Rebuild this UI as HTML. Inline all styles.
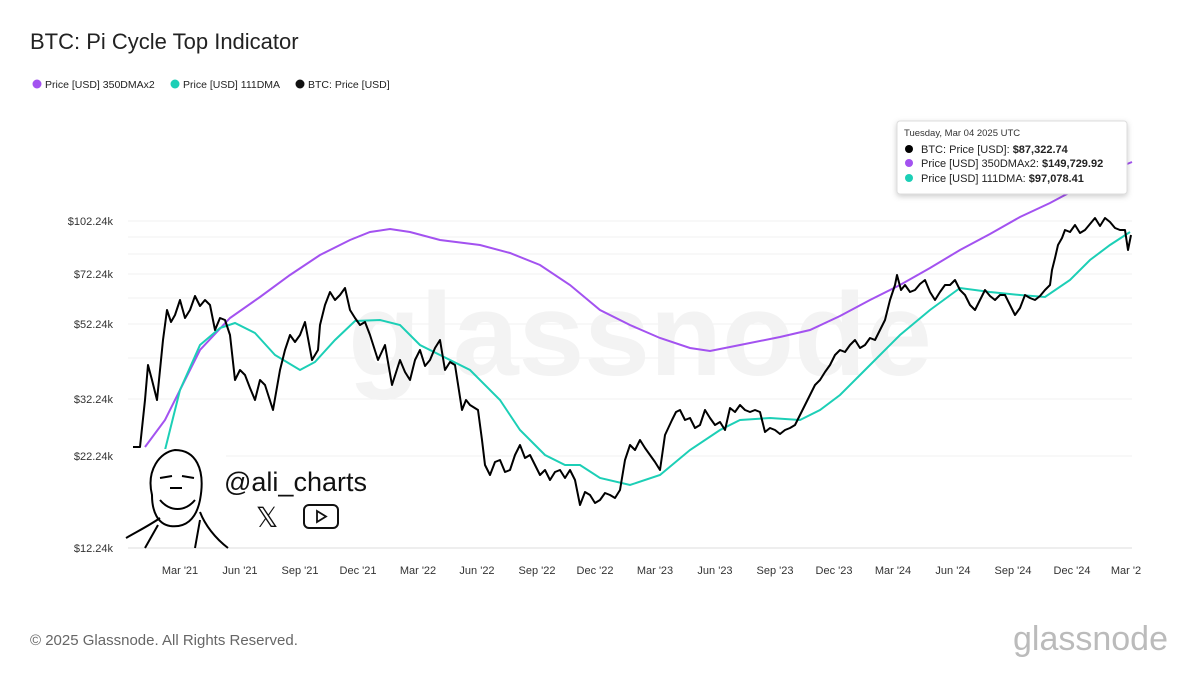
<!DOCTYPE html>
<html><head><meta charset="utf-8"><style>
body{margin:0;background:#fff;font-family:"Liberation Sans",sans-serif}
#c{position:relative;width:1200px;height:675px;overflow:hidden}
</style></head><body><div id="c">
<svg width="1200" height="675" viewBox="0 0 1200 675" style="position:absolute;left:0;top:0">
<text x="30" y="49" font-size="22" fill="#222">BTC: Pi Cycle Top Indicator</text>
<circle cx="37" cy="84" r="4.5" fill="#a352f0"/><text x="45" y="88" font-size="10.5" fill="#222">Price [USD] 350DMAx2</text>
<circle cx="175" cy="84" r="4.5" fill="#1ccfb6"/><text x="183" y="88" font-size="10.5" fill="#222">Price [USD] 111DMA</text>
<circle cx="300" cy="84" r="4.5" fill="#111"/><text x="308" y="88" font-size="10.5" fill="#222">BTC: Price [USD]</text>
<g stroke="#f0f0f0" stroke-width="1">
<line x1="128" x2="1132" y1="221" y2="221"/><line x1="128" x2="1132" y1="237" y2="237"/><line x1="128" x2="1132" y1="254" y2="254"/>
<line x1="128" x2="1132" y1="274" y2="274"/><line x1="128" x2="1132" y1="298" y2="298"/><line x1="128" x2="1132" y1="324" y2="324"/>
<line x1="128" x2="1132" y1="358" y2="358"/><line x1="128" x2="1132" y1="399" y2="399"/><line x1="128" x2="1132" y1="456" y2="456"/>
</g>
<line x1="128" x2="1132" y1="548" y2="548" stroke="#ddd"/>
<text x="640" y="375" font-size="118" fill="#f3f3f3" text-anchor="middle" font-weight="bold">glassnode</text>
<g font-size="11" fill="#333" text-anchor="end">
<text x="113" y="225">$102.24k</text><text x="113" y="278">$72.24k</text><text x="113" y="328">$52.24k</text>
<text x="113" y="403">$32.24k</text><text x="113" y="460">$22.24k</text><text x="113" y="552">$12.24k</text></g>
<g font-size="11" fill="#333" text-anchor="middle">
<text x="180" y="574">Mar '21</text><text x="240" y="574">Jun '21</text><text x="300" y="574">Sep '21</text><text x="358" y="574">Dec '21</text>
<text x="418" y="574">Mar '22</text><text x="477" y="574">Jun '22</text><text x="537" y="574">Sep '22</text><text x="595" y="574">Dec '22</text>
<text x="655" y="574">Mar '23</text><text x="715" y="574">Jun '23</text><text x="775" y="574">Sep '23</text><text x="834" y="574">Dec '23</text>
<text x="893" y="574">Mar '24</text><text x="953" y="574">Jun '24</text><text x="1013" y="574">Sep '24</text><text x="1072" y="574">Dec '24</text>
<text x="1126" y="574">Mar '2</text></g>
<polyline fill="none" stroke="#a352f0" stroke-width="2" points="145,447 165,420 200,350 230,318 260,297 290,275 320,255 350,240 370,232 390,229 410,232 440,240 480,245 510,253 540,265 570,285 600,310 630,325 660,338 690,348 710,351 740,345 780,337 810,330 840,316 870,300 900,285 930,268 960,250 990,234 1020,217 1050,203 1080,187 1100,175 1132,162"/>
<polyline fill="none" stroke="#1ccfb6" stroke-width="2" points="165,450 180,390 200,345 220,328 235,323 255,333 275,355 300,370 315,362 335,340 355,321 380,320 400,325 420,345 440,355 470,370 500,400 520,430 545,455 565,465 580,465 600,478 630,485 660,475 690,450 720,430 740,420 770,418 800,420 820,410 840,395 860,375 880,355 900,335 930,310 960,288 990,292 1020,295 1045,297 1070,280 1090,260 1110,245 1130,232"/>
<polyline fill="none" stroke="#000" stroke-width="2" stroke-linejoin="round" points="133,447 140,447 145,400 148,365 152,380 157,400 163,340 167,310 171,322 175,315 180,300 185,318 190,310 195,296 200,306 205,300 210,305 215,330 220,318 225,320 230,335 235,380 240,370 245,375 250,388 255,400 260,380 265,385 273,410 280,370 285,350 290,335 295,342 300,335 305,322 312,360 318,350 320,325 325,305 330,292 335,300 340,295 345,288 350,310 355,318 360,325 365,322 370,335 378,360 385,345 392,385 400,360 405,372 410,380 415,360 420,350 425,366 430,360 435,348 440,340 445,370 450,362 455,365 462,410 466,400 470,405 478,410 482,440 485,465 490,475 495,462 500,460 505,472 510,470 515,455 520,445 525,458 530,455 535,465 540,475 545,470 550,480 555,472 560,470 565,478 570,470 575,480 580,505 585,492 590,495 595,503 600,500 605,493 610,495 615,498 620,490 625,460 630,445 635,450 640,440 645,448 650,455 655,462 660,470 665,435 672,420 676,412 680,410 685,420 690,418 695,428 700,425 705,410 710,418 715,425 720,422 725,430 730,408 735,412 740,405 745,410 750,412 755,410 760,412 765,432 770,428 775,430 780,434 785,430 790,428 795,425 800,415 805,405 810,395 815,385 820,380 825,372 830,365 835,355 840,350 845,352 850,345 855,340 860,348 865,345 870,338 875,340 880,330 885,320 890,300 895,285 897,275 901,290 905,285 910,292 915,290 920,284 925,280 930,292 935,300 940,292 945,285 950,285 955,280 960,290 965,295 970,305 975,310 980,300 985,290 990,296 995,300 1000,295 1005,295 1010,305 1015,315 1020,308 1025,295 1030,298 1035,300 1040,296 1045,290 1050,285 1052,270 1055,258 1058,245 1062,238 1065,230 1070,232 1075,225 1080,233 1085,230 1090,224 1095,218 1100,226 1105,218 1110,222 1115,228 1120,230 1125,230 1128,250 1131,235"/>
<rect x="125" y="449" width="101" height="98" fill="#fff"/>
<g fill="none" stroke="#000" stroke-width="2">
<path d="M152,495 C146,470 160,452 175,450 C195,450 206,468 200,500 C196,520 185,528 170,526 C158,524 152,512 152,495Z"/>
<path d="M160,478 L172,476 M182,476 L194,478 M160,500 C170,512 185,512 195,500 M170,488 L182,488"/>
<path d="M126,538 C140,530 150,525 160,518 M200,512 C205,525 215,538 228,548 M145,548 L158,525 M195,548 L200,520"/>
</g>
<text x="224" y="491" font-size="27" fill="#111">@ali_charts</text>
<text x="267" y="527" font-size="28" fill="#111" text-anchor="middle">𝕏</text>
<rect x="304" y="505" width="34" height="23" rx="5" fill="none" stroke="#111" stroke-width="2"/>
<path d="M317,511 L326,516.5 L317,522Z" fill="none" stroke="#111" stroke-width="1.8"/>
<rect x="897" y="121" width="230" height="73" rx="3" fill="#fff" stroke="#ddd" style="filter:drop-shadow(0 2px 3px rgba(0,0,0,.2))"/>
<text x="904" y="136" font-size="9.5" fill="#333">Tuesday, Mar 04 2025 UTC</text>
<circle cx="909" cy="149" r="4" fill="#000"/><text x="921" y="153" font-size="11" fill="#222">BTC: Price [USD]: <tspan font-weight="bold">$87,322.74</tspan></text>
<circle cx="909" cy="163" r="4" fill="#a352f0"/><text x="921" y="167" font-size="11" fill="#222">Price [USD] 350DMAx2: <tspan font-weight="bold">$149,729.92</tspan></text>
<circle cx="909" cy="178" r="4" fill="#1ccfb6"/><text x="921" y="182" font-size="11" fill="#222">Price [USD] 111DMA: <tspan font-weight="bold">$97,078.41</tspan></text>
<text x="30" y="645" font-size="15" fill="#666">© 2025 Glassnode. All Rights Reserved.</text>
<text x="1168" y="650" font-size="34" fill="#bbb" text-anchor="end">glassnode</text>
</svg></div></body></html>
